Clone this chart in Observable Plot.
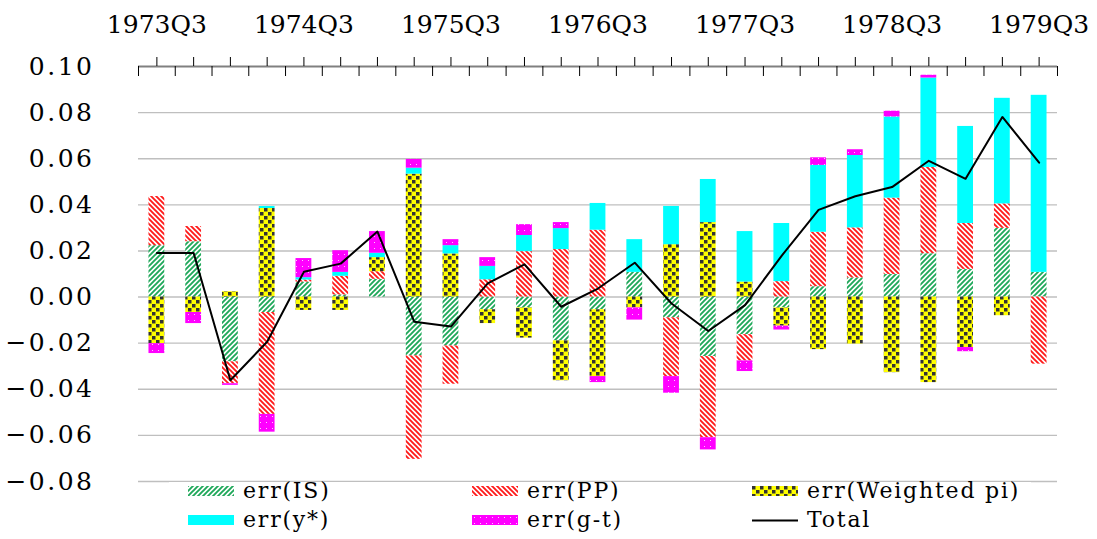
<!DOCTYPE html>
<html>
<head>
<meta charset="utf-8">
<script src="https://cdn.jsdelivr.net/npm/d3@7"></script>
<script src="https://cdn.jsdelivr.net/npm/@observablehq/plot@0.6"></script>
<style>
  html, body { margin: 0; padding: 0; background: #fff; }
  #wrap { position: relative; width: 1097px; height: 539px; overflow: hidden; font-family: "DejaVu Serif", serif; }
  #legend { position: absolute; left: 169px; top: 482px; width: 862px; height: 57px; background: #fff; }
  .sw { position: absolute; width: 46px; height: 10px; }
  .lt { position: absolute; font-family: "DejaVu Serif", serif; font-size: 22px; letter-spacing: 1.8px; white-space: nowrap; line-height: 24px; color: #000; }
</style>
</head>
<body>
<svg width="0" height="0" style="position:absolute">
  <defs>
    <pattern id="pIS" patternUnits="userSpaceOnUse" width="5" height="5">
      <rect width="5" height="5" fill="#fff"/>
      <path d="M0,5 L5,0 M-1,1 L1,-1 M4,6 L6,4" stroke="#1fa85a" stroke-width="1.9"/>
    </pattern>
    <pattern id="pPP" patternUnits="userSpaceOnUse" width="5" height="5">
      <rect width="5" height="5" fill="#fff"/>
      <path d="M0,0 L5,5 M-1,4 L1,6 M4,-1 L6,1" stroke="#ff1a1a" stroke-width="1.9"/>
    </pattern>
    <pattern id="pWP" patternUnits="userSpaceOnUse" width="8" height="8">
      <rect width="8" height="8" fill="#ffff00"/>
      <rect x="0" y="0" width="3.5" height="3.5" fill="#333333"/>
      <rect x="4" y="4" width="3.5" height="3.5" fill="#333333"/>
    </pattern>
    <pattern id="pY" patternUnits="userSpaceOnUse" width="6" height="6">
      <rect width="6" height="6" fill="#00ffff"/>
    </pattern>
    <pattern id="pGT" patternUnits="userSpaceOnUse" width="6" height="6">
      <rect width="6" height="6" fill="#ff00ff"/>
      <rect x="2" y="2" width="1" height="1" fill="#ffc8ff"/>
    </pattern>
  </defs>
</svg>
<div id="wrap"></div>
<script>
// ---- data ----
const quarters = [
  "1973Q3","1973Q4","1974Q1","1974Q2","1974Q3","1974Q4","1975Q1","1975Q2","1975Q3",
  "1975Q4","1976Q1","1976Q2","1976Q3","1976Q4","1977Q1","1977Q2","1977Q3","1977Q4",
  "1978Q1","1978Q2","1978Q3","1978Q4","1979Q1","1979Q2","1979Q3"
];
const seriesNames = ["err(IS)", "err(PP)", "err(Weighted pi)", "err(y*)", "err(g-t)"];
const errIS = [0.0223, 0.0240, -0.0281, -0.0067, 0.0065, 0.0009, 0.0077, -0.0255, -0.0212,
  -0.0055, -0.0047, -0.0190, -0.0055, 0.0107, -0.0090, -0.0258, -0.0163, -0.0047,
  0.0045, 0.0083, 0.0098, 0.0188, 0.0120, 0.0298, 0.0107];
const errPP = [0.0213, 0.0066, -0.0095, -0.0442, 0.0009, 0.0081, 0.0033, -0.0449, -0.0166,
  0.0075, 0.0197, 0.0206, 0.0290, 0.0000, -0.0255, -0.0352, -0.0114, 0.0067,
  0.0236, 0.0217, 0.0331, 0.0374, 0.0199, 0.0106, -0.0291];
const errWP = [-0.0202, -0.0067, 0.0023, 0.0384, -0.0058, -0.0058, 0.0061, 0.0533, 0.0187,
  -0.0060, -0.0131, -0.0173, -0.0290, -0.0047, 0.0227, 0.0323, 0.0065, -0.0079,
  -0.0228, -0.0204, -0.0328, -0.0371, -0.0219, -0.0081, 0.0000];
const errYstar = [0.0000, 0.0000, 0.0000, 0.0009, 0.0010, 0.0017, 0.0019, 0.0026, 0.0036,
  0.0058, 0.0070, 0.0091, 0.0116, 0.0142, 0.0166, 0.0187, 0.0219, 0.0252,
  0.0290, 0.0314, 0.0352, 0.0388, 0.0421, 0.0458, 0.0768];
const errGT = [-0.0043, -0.0048, -0.0007, -0.0077, 0.0083, 0.0094, 0.0094, 0.0038, 0.0026,
  0.0038, 0.0047, 0.0026, -0.0026, -0.0053, -0.0072, -0.0053, -0.0046, -0.0017,
  0.0033, 0.0025, 0.0025, 0.0012, -0.0018, 0.0000, 0.0000];
const total = [0.0191, 0.0191, -0.0361, -0.0194, 0.0110, 0.0145, 0.0284, -0.0107, -0.0128,
  0.0059, 0.0142, -0.0042, 0.0037, 0.0149, -0.0028, -0.0147, -0.0035, 0.0180,
  0.0378, 0.0437, 0.0477, 0.0591, 0.0513, 0.0781, 0.0583];
const xTickLabels = ["1973Q3","1974Q3","1975Q3","1976Q3","1977Q3","1978Q3","1979Q3"];
const yTicks = [-0.08, -0.06, -0.04, -0.02, 0.00, 0.02, 0.04, 0.06, 0.08, 0.10];
const gridTicks = [-0.08, -0.06, -0.04, -0.02, 0.00, 0.02, 0.04, 0.06, 0.08];

const seriesValues = [errIS, errPP, errWP, errYstar, errGT];
const patternUrls = ["url(#pIS)", "url(#pPP)", "url(#pWP)", "url(#pY)", "url(#pGT)"];

// ---- layout ----
const W = 1097, H = 539, ML = 138, MR = 40, MT = 66, MB = 58;
const plotH = H - MT - MB;
const step = (W - ML - MR) / quarters.length;

const rows = quarters.flatMap((q, i) => seriesNames.map((s, k) => ({q, series: s, value: seriesValues[k][i]})));
const totalRows = quarters.map((q, i) => ({q, v: total[i]}));

const chart = Plot.plot({
  width: W, height: H,
  marginLeft: ML, marginRight: MR, marginTop: MT, marginBottom: MB,
  style: {fontFamily: "DejaVu Serif, serif", fontSize: "25px", color: "#000", background: "transparent", overflow: "visible"},
  x: {domain: quarters, paddingInner: 0.57, paddingOuter: 0.285, round: false},
  y: {domain: [-0.08, 0.10]},
  color: {domain: seriesNames, range: patternUrls},
  marks: [
    Plot.gridY(gridTicks, {stroke: "#bfbfbf", strokeOpacity: 1, strokeWidth: 1.4}),
    Plot.barY(rows, Plot.stackY({x: "q", y: "value", fill: "series"})),
    Plot.line(totalRows, {x: "q", y: "v", stroke: "#000", strokeWidth: 2}),
    Plot.ruleY([0.10], {stroke: "#808080", strokeWidth: 2}),
    Plot.ruleX(quarters, {x: d => d, insetTop: -9, insetBottom: plotH, stroke: "#000", strokeWidth: 1}),
    Plot.ruleX(quarters, {x: d => d, dx: -step / 2, insetTop: 0, insetBottom: plotH - 10, stroke: "#000", strokeWidth: 1}),
    Plot.ruleX([quarters[quarters.length - 1]], {x: d => d, dx: step / 2, insetTop: 0, insetBottom: plotH - 10, stroke: "#000", strokeWidth: 1}),
    Plot.axisX(xTickLabels, {anchor: "top", tickSize: 0, tickPadding: 34, label: null, fontFamily: "DejaVu Serif", fontSize: 25}),
    Plot.axisY(yTicks, {anchor: "left", tickSize: 0, tickPadding: 44, tickFormat: d3.format(".2f"), label: null, fontFamily: "DejaVu Serif", fontSize: 25})
  ]
});

chart.querySelectorAll('[aria-label="y-axis tick label"] text').forEach(t => t.setAttribute("letter-spacing", "2.5"));

const wrap = document.getElementById("wrap");
wrap.appendChild(chart);

// ---- legend ----
const legendItems = [
  {label: seriesNames[0], fill: patternUrls[0], x: 188, y: 0},
  {label: seriesNames[1], fill: patternUrls[1], x: 472, y: 0},
  {label: seriesNames[2], fill: patternUrls[2], x: 752, y: 0},
  {label: seriesNames[3], fill: patternUrls[3], x: 188, y: 1},
  {label: seriesNames[4], fill: patternUrls[4], x: 472, y: 1},
  {label: "Total", line: true, x: 752, y: 1}
];
const legend = document.createElement("div");
legend.id = "legend";
const rowTop = [4, 33];
legendItems.forEach(it => {
  const lx = it.x - 169;
  const sw = document.createElementNS("http://www.w3.org/2000/svg", "svg");
  sw.setAttribute("class", "sw");
  sw.setAttribute("width", 47);
  sw.setAttribute("height", 10);
  sw.style.left = lx + "px";
  sw.style.top = rowTop[it.y] + "px";
  if (it.line) {
    const l = document.createElementNS("http://www.w3.org/2000/svg", "line");
    l.setAttribute("x1", 0); l.setAttribute("x2", 46); l.setAttribute("y1", 5.5); l.setAttribute("y2", 5.5);
    l.setAttribute("stroke", "#000"); l.setAttribute("stroke-width", 2);
    sw.appendChild(l);
  } else {
    const r = document.createElementNS("http://www.w3.org/2000/svg", "rect");
    r.setAttribute("width", 46); r.setAttribute("height", 10);
    r.setAttribute("fill", it.fill);
    sw.appendChild(r);
  }
  legend.appendChild(sw);
  const t = document.createElement("div");
  t.className = "lt";
  t.textContent = it.label;
  t.style.left = (lx + 55) + "px";
  t.style.top = (rowTop[it.y] - 7) + "px";
  legend.appendChild(t);
});
wrap.appendChild(legend);
</script>
</body>
</html>
